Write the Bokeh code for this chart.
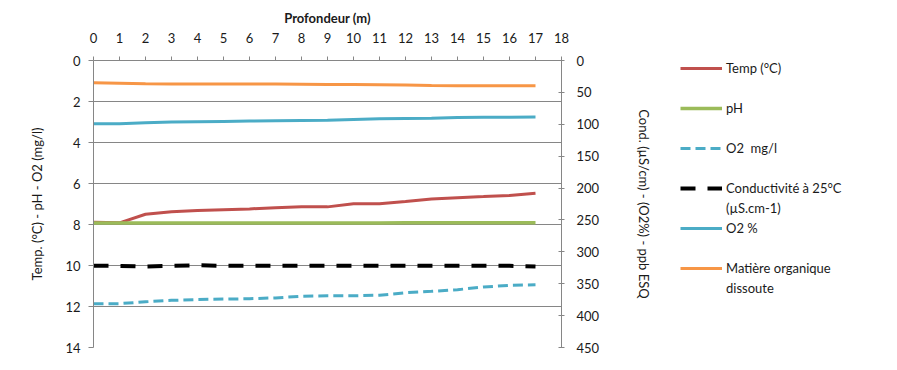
from bokeh.plotting import figure
from bokeh.layouts import row
from bokeh.models import Range1d, LinearAxis, Legend, LegendItem, FixedTicker
from bokeh.embed import file_html
from bokeh.resources import INLINE

# ---- data ----
depth = list(range(18))
temp = [7.89, 7.92, 7.50, 7.38, 7.32, 7.28, 7.24, 7.18, 7.13, 7.14, 6.99, 6.99, 6.88, 6.76, 6.69, 6.64, 6.58, 6.47]
ph = [7.93, 7.93, 7.93, 7.93, 7.93, 7.93, 7.93, 7.93, 7.93, 7.93, 7.93, 7.93, 7.92, 7.92, 7.92, 7.92, 7.91, 7.91]
o2_mgl = [11.87, 11.86, 11.77, 11.70, 11.66, 11.64, 11.62, 11.58, 11.50, 11.48, 11.48, 11.45, 11.33, 11.26, 11.18, 11.05, 10.97, 10.94]
cond = [322, 322, 323, 322, 321, 322, 322, 322, 322, 322, 322, 322, 322, 322, 322, 322, 322, 323]
o2_pct = [99.3, 99.0, 97.5, 96.5, 96.0, 95.5, 95.0, 94.5, 94.0, 93.5, 92.5, 91.5, 91.0, 90.5, 89.5, 89.0, 88.8, 88.7]
mod = [35.0, 35.5, 36.5, 36.8, 36.8, 37.0, 37.0, 37.0, 37.3, 37.8, 37.8, 38.0, 38.5, 39.2, 39.6, 39.6, 39.6, 39.5]

x_ticks = list(range(19))
left_ticks = list(range(0, 15, 2))
right_ticks = list(range(0, 451, 50))

FONT = "Lato"
AXIS_COL = "#868686"
TXT = "#1a1a1a"

p = figure(frame_width=468, frame_height=287,
           min_border_left=93, min_border_top=60, min_border_right=95, min_border_bottom=15,
           x_range=Range1d(0, 18), y_range=Range1d(14, 0),
           x_axis_location="above",
           output_backend="svg", toolbar_location=None)
p.outline_line_color = None
p.background_fill_color = "white"
p.border_fill_color = "white"

p.extra_y_ranges = {"right": Range1d(450, 0)}
raxis = LinearAxis(y_range_name="right")
p.add_layout(raxis, "right")

# top x axis
xa = p.xaxis[0]
xa.ticker = FixedTicker(ticks=x_ticks)
xa.axis_label = "Profondeur (m)"
xa.axis_label_text_font = FONT
xa.axis_label_text_font_style = "bold"
xa.axis_label_text_font_size = "13px"
xa.axis_label_text_color = TXT
xa.axis_label_standoff = 4
xa.axis_line_color = AXIS_COL
xa.major_tick_line_color = AXIS_COL
xa.major_tick_in = 0
xa.major_tick_out = 4
xa.minor_tick_line_color = None
xa.major_label_text_font = FONT
xa.major_label_text_font_size = "13px"
xa.major_label_text_color = TXT
xa.major_label_standoff = 14

# left y axis
ya = p.yaxis[0]
ya.ticker = FixedTicker(ticks=left_ticks)
ya.axis_label = "Temp. (°C) - pH - O2 (mg/l)"
ya.axis_label_text_font = FONT
ya.axis_label_text_font_style = "normal"
ya.axis_label_text_font_size = "13px"
ya.axis_label_text_color = TXT
ya.axis_label_standoff = 17
ya.axis_line_color = AXIS_COL
ya.major_tick_line_color = AXIS_COL
ya.major_tick_in = 0
ya.major_tick_out = 5
ya.minor_tick_line_color = None
ya.major_label_text_font = FONT
ya.major_label_text_font_size = "13px"
ya.major_label_text_color = TXT
ya.major_label_standoff = 8

# right y axis
raxis.ticker = FixedTicker(ticks=right_ticks)
raxis.axis_label = "Cond. (µS/cm) - (O2%) - ppb ESQ"
raxis.axis_label_text_font = FONT
raxis.axis_label_text_font_style = "normal"
raxis.axis_label_text_font_size = "13px"
raxis.axis_label_text_color = TXT
raxis.axis_label_standoff = 34
raxis.axis_line_color = AXIS_COL
raxis.major_tick_line_color = AXIS_COL
raxis.major_tick_in = 3
raxis.major_tick_out = 3
raxis.minor_tick_line_color = None
raxis.major_label_text_font = FONT
raxis.major_label_text_font_size = "13px"
raxis.major_label_text_color = TXT
raxis.major_label_standoff = 12

# grid
p.xgrid.grid_line_color = None
p.ygrid.ticker = FixedTicker(ticks=left_ticks)
p.ygrid.grid_line_color = AXIS_COL
p.ygrid.grid_line_width = 1

# series styles
styles = {
    "temp": dict(line_color="#C0504D", line_width=3),
    "ph": dict(line_color="#9BBB59", line_width=3.5),
    "o2m": dict(line_color="#4BACC6", line_width=3, line_dash="10 5"),
    "cond": dict(line_color="black", line_width=4, line_dash="15 12"),
    "o2p": dict(line_color="#4BACC6", line_width=3),
    "mod": dict(line_color="#F79646", line_width=3),
}
series = {"temp": temp, "ph": ph, "o2m": o2_mgl, "cond": cond, "o2p": o2_pct, "mod": mod}
right_side = {"cond", "o2p", "mod"}

for k, vals in series.items():
    if k in right_side:
        p.line(depth, vals, y_range_name="right", **styles[k])
    else:
        p.line(depth, vals, **styles[k])

# ---- legend panel (separate figure placed to the right) ----
lg = figure(width=233, height=362, min_border=0,
            x_range=Range1d(100, 101), y_range=Range1d(100, 101),
            x_axis_type=None, y_axis_type=None,
            output_backend="svg", toolbar_location=None)
lg.outline_line_color = None
lg.border_fill_color = "white"
lg.background_fill_color = "white"

# legend keys: one-point lines (draw nothing in the view, only the legend swatch)
keys = {k: lg.line(x=depth[:1], y=series[k][:1], **s) for k, s in styles.items()}
blank = lg.line(x=depth[:1], y=temp[:1], line_alpha=0)

rows = [
    ("Temp (°C)", keys["temp"]), (" ", blank),
    ("pH", keys["ph"]), (" ", blank),
    ("O2  mg/l", keys["o2m"]), (" ", blank),
    ("Conductivité à 25°C", keys["cond"]), ("(µS.cm-1)", blank),
    ("O2 %", keys["o2p"]), (" ", blank),
    ("Matière organique", keys["mod"]), ("dissoute", blank),
]
legend = Legend(items=[LegendItem(label=t, renderers=[r]) for t, r in rows],
                location=(24, 49), padding=0, margin=0, spacing=0,
                glyph_width=42, glyph_height=20, label_height=20, label_standoff=4,
                border_line_color=None, background_fill_alpha=0,
                label_text_font=FONT, label_text_font_size="13px", label_text_color=TXT)
lg.add_layout(legend, "center")

layout = row(p, lg)
open("out.html", "w").write(file_html(layout, INLINE))
